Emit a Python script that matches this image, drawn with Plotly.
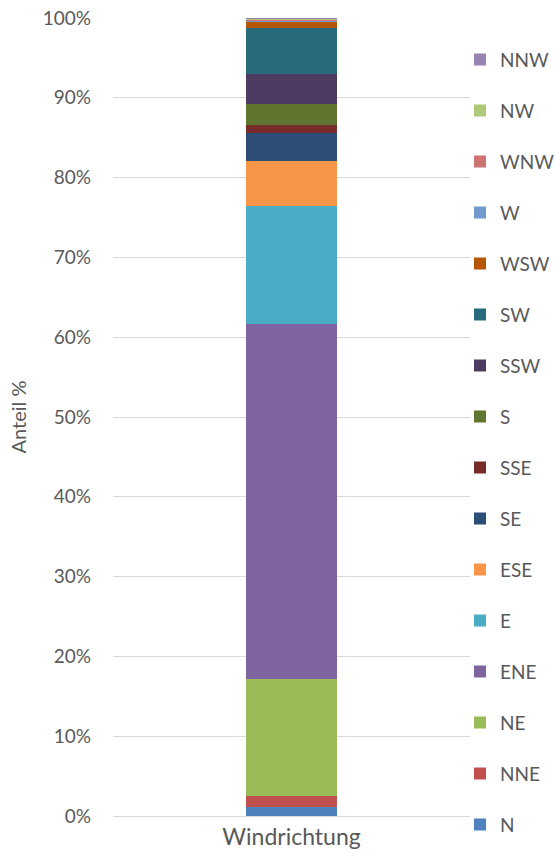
import plotly.graph_objects as go

categories = ["Windrichtung"]
directions = ["N", "NNE", "NE", "ENE", "E", "ESE", "SE", "SSE",
              "S", "SSW", "SW", "WSW", "W", "WNW", "NW", "NNW"]
shares = [1.13, 1.4, 14.6, 44.5, 14.8, 5.6, 3.6, 1.0,
          2.65, 3.75, 5.7, 0.8, 0.2, 0.05, 0.1, 0.12]
colors = ["#4F81BD", "#C0504D", "#9BBB59", "#8064A2", "#4BACC6", "#F79646",
          "#2C4D75", "#772C2A", "#5F7530", "#4D3B62", "#276A7C", "#B65708",
          "#729ACA", "#CD7371", "#AFC97A", "#9983B5"]
y_ticks = list(range(0, 101, 10))
y_tick_labels = [f"{t}%" for t in y_ticks]

FONT = "Lato, 'Open Sans', sans-serif"

fig = go.Figure()
n = len(directions)
for i, (d, v, c) in enumerate(zip(directions, shares, colors)):
    fig.add_trace(go.Bar(x=categories, y=[v], name=d, marker_color=c,
                         marker_line_width=0, legendgroup=d,
                         legendrank=1000 + (n - i)))

fig.update_layout(
    barmode="stack",
    bargap=0.745,
    width=555, height=853,
    margin=dict(l=113, r=85, t=18, b=37, autoexpand=False),
    paper_bgcolor="white", plot_bgcolor="white",
    font=dict(family=FONT, color="#595959", size=18),
    legend=dict(traceorder="grouped", x=0.972, xanchor="left", y=0.9715, yanchor="top",
                font=dict(size=19, color="#595959"), tracegroupgap=23.3,
                itemwidth=30, bgcolor="rgba(0,0,0,0)"),
    showlegend=True,
)
fig.update_yaxes(range=[0, 100], tickvals=y_ticks, ticktext=y_tick_labels,
                 showgrid=True, gridcolor="#D9D9D9", gridwidth=1, automargin=False,
                 zeroline=False, showline=False, ticklabelstandoff=21,
                 tickfont=dict(size=19),
                 title=dict(text="Anteil %", standoff=10, font=dict(size=20)))
fig.update_xaxes(showline=True, linecolor="#D9D9D9", linewidth=1, automargin=False,
                 tickfont=dict(size=23), ticklabelstandoff=0)

fig.write_html("out.html", config={"displayModeBar": False},
               post_script="document.body.style.margin='0';")
